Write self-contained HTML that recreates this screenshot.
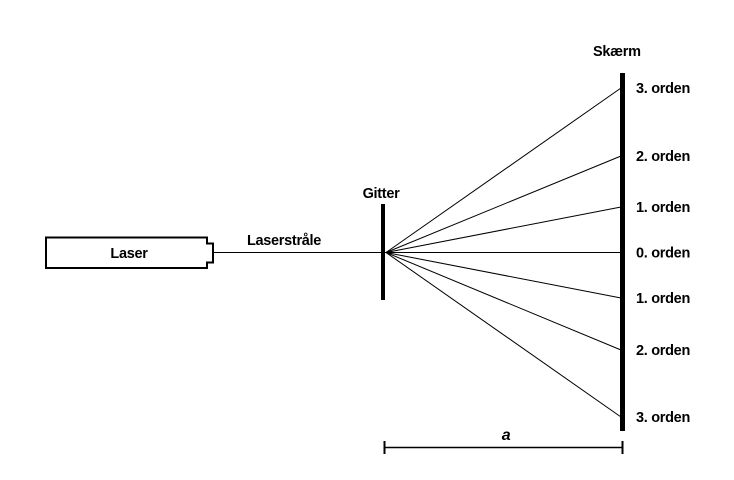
<!DOCTYPE html>
<html><head><meta charset="utf-8"><style>
html,body{margin:0;padding:0;background:#fff;}
svg{display:block;}
text{font-family:"Liberation Sans",Arial,sans-serif;font-size:14.5px;font-weight:bold;fill:#000;letter-spacing:-0.3px;}
</style></head><body>
<svg width="734" height="480" viewBox="0 0 734 480">
<g>
<path d="M46,237.5 H207 V243.5 H213 V262.5 H207 V268 H46 Z" fill="#fff" stroke="#000" stroke-width="2"/>
<text x="129" y="258" text-anchor="middle">Laser</text>
</g>
<line x1="213" y1="252.5" x2="386" y2="252.5" stroke="#000" stroke-width="1"/>
<text x="284" y="245" text-anchor="middle">Laserstråle</text>
<rect x="381" y="204" width="4" height="96" fill="#000"/>
<text x="381" y="198" text-anchor="middle">Gitter</text>
<g id="rays"></g>
<rect x="620" y="73" width="5" height="358" fill="#000"/>
<text x="593" y="56">Skærm</text>
<g id="labels"></g>
<g>
<line x1="384" y1="447.5" x2="623" y2="447.5" stroke="#000" stroke-width="1.5"/>
<line x1="384.5" y1="441" x2="384.5" y2="454" stroke="#000" stroke-width="2"/>
<line x1="622.5" y1="441" x2="622.5" y2="454" stroke="#000" stroke-width="2"/>
<text x="506" y="440" text-anchor="middle" style="font-style:italic;font-size:16px">a</text>
</g>
</svg>
<script>
const orderLabels=["3. orden","2. orden","1. orden","0. orden","1. orden","2. orden","3. orden"];
const hitY=[88,156,207,252.5,298,350,417];
const ox=386, oy=252.5, sx=621;
const rays=document.getElementById('rays'), labels=document.getElementById('labels');
const NS='http://www.w3.org/2000/svg';
hitY.forEach((y,i)=>{
  const l=document.createElementNS(NS,'line');
  l.setAttribute('x1',ox);l.setAttribute('y1',oy);l.setAttribute('x2',sx);l.setAttribute('y2',y);
  l.setAttribute('stroke','#000');l.setAttribute('stroke-width','1');
  
  
  rays.appendChild(l);
  const t=document.createElementNS(NS,'text');
  t.setAttribute('x',636);t.setAttribute('y',y+5);
  t.textContent=orderLabels[i];
  
  
  labels.appendChild(t);
});
</script>
</body></html>
